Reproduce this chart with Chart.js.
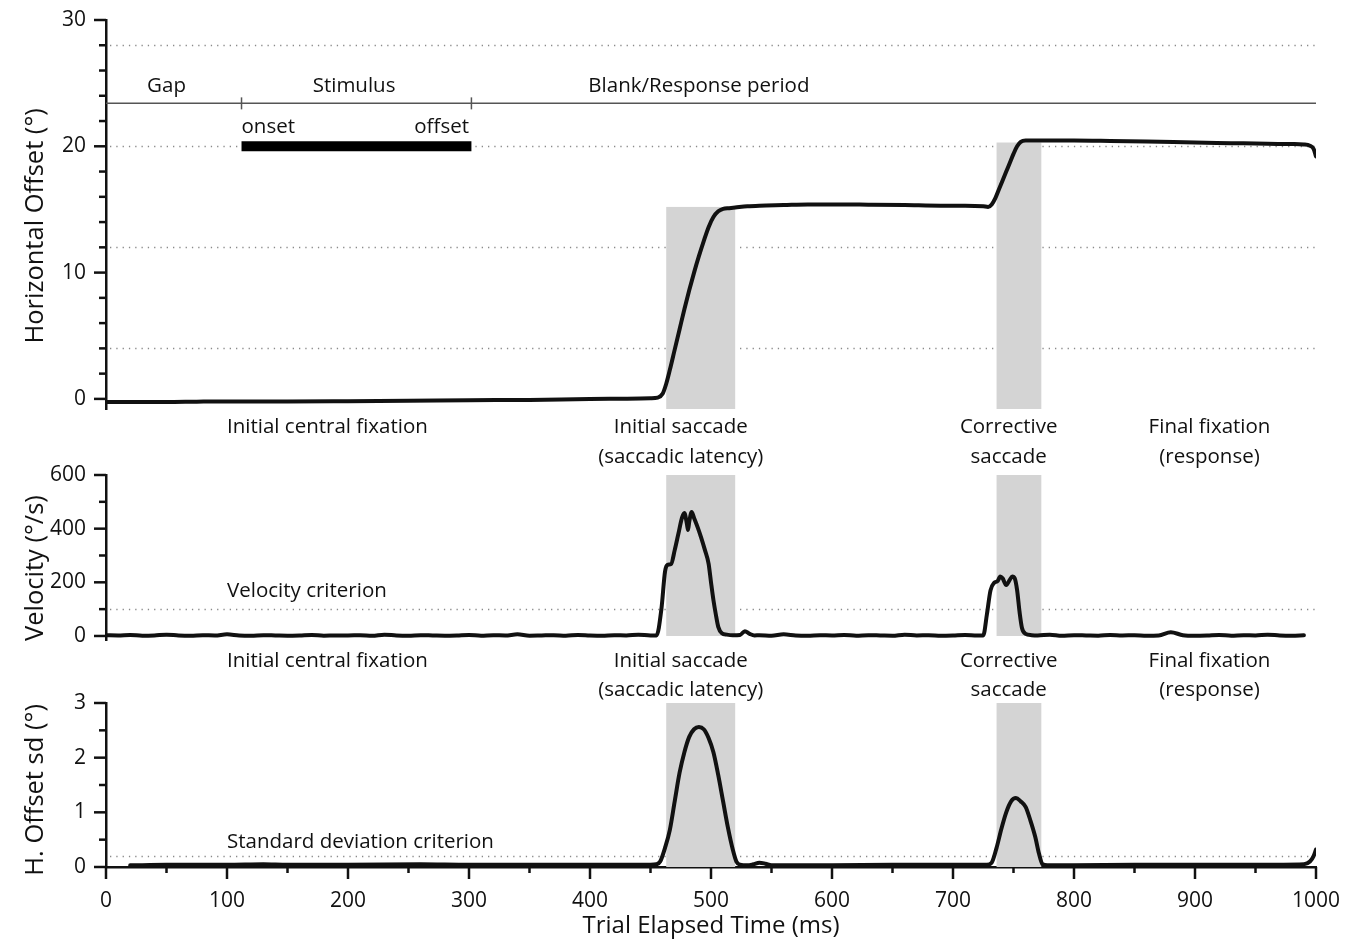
<!DOCTYPE html>
<html>
<head>
<meta charset="utf-8">
<script src="https://cdn.jsdelivr.net/npm/chart.js@4.4.1/dist/chart.umd.min.js"></script>
<style>
  html, body { margin: 0; padding: 0; background: #fff; }
  #wrap { position: relative; width: 1348px; height: 941px; }
  #wrap canvas { position: absolute; left: 0; top: 0; }
</style>
</head>
<body>
<div id="wrap">
  <canvas id="cPos" width="1348" height="941"></canvas>
  <canvas id="cVel" width="1348" height="941"></canvas>
  <canvas id="cSd" width="1348" height="941"></canvas>
</div>
<script>
// horizontal eye position (deg) over the trial
const posTime = [0, 25, 50, 75, 100, 150, 200, 250, 300, 350, 400, 430, 450, 456, 460, 463, 466, 470, 474, 478, 482, 486, 490, 494, 498, 502, 506, 510, 515, 520, 530, 540, 560, 580, 600, 630, 660, 690, 710, 725, 729, 732, 735, 738, 741, 744, 747, 750, 753, 756, 760, 770, 800, 830, 860, 900, 930, 960, 980, 990, 995, 998, 1000];
const posDeg = [-0.25, -0.25, -0.25, -0.22, -0.2, -0.2, -0.18, -0.15, -0.1, -0.08, 0, 0.02, 0.05, 0.1, 0.4, 1.2, 2.3, 3.9, 5.5, 7.1, 8.6, 10.0, 11.3, 12.5, 13.6, 14.4, 14.85, 15.05, 15.1, 15.15, 15.25, 15.3, 15.35, 15.4, 15.4, 15.38, 15.35, 15.3, 15.3, 15.25, 15.2, 15.4, 15.9, 16.6, 17.3, 18.0, 18.7, 19.4, 20.0, 20.35, 20.45, 20.45, 20.45, 20.42, 20.38, 20.3, 20.25, 20.2, 20.18, 20.15, 20.05, 19.8, 19.2];

// eye velocity (deg/s)
const velTime = [0, 10, 20, 30, 40, 50, 60, 70, 80, 90, 100, 110, 120, 130, 140, 150, 160, 170, 180, 190, 200, 210, 220, 230, 240, 250, 260, 270, 280, 290, 300, 310, 320, 330, 340, 350, 360, 370, 380, 390, 400, 410, 420, 430, 440, 450,
  455, 459, 462, 464, 467, 470, 473, 476, 478, 480, 481, 482, 484, 486, 489, 492, 495, 498, 500, 502, 504, 506, 509, 513, 518, 524, 528, 532, 536,
  540, 550, 560, 570, 580, 590, 600, 610, 620, 630, 640, 650, 660, 670, 680, 690, 700, 710, 720,
  725, 728, 731, 734, 737, 739, 741, 744, 747, 749, 751, 753, 755, 757, 760, 765,
  770, 780, 790, 800, 810, 820, 830, 840, 850, 860, 870, 880, 890, 900, 910, 920, 930, 940, 950, 960, 970, 980, 990];
const velDeg = [3, 2, 4, 1, 2, 5, 2, 1, 3, 2, 6, 2, 1, 3, 2, 1, 2, 4, 1, 2, 2, 3, 1, 5, 2, 1, 3, 2, 1, 2, 4, 1, 3, 2, 6, 1, 2, 3, 1, 4, 2, 1, 3, 2, 5, 2,
  2, 100, 240, 265, 268, 320, 380, 440, 458, 420, 395, 425, 462, 440, 405, 365, 320, 270, 200, 134, 80, 34, 10, 5, 3, 4, 18, 8, 2,
  3, 1, 6, 2, 1, 3, 2, 4, 1, 3, 2, 1, 5, 2, 3, 1, 2, 4, 2,
  2, 80, 170, 198, 205, 222, 215, 190, 210, 222, 215, 170, 90, 30, 8, 3,
  2, 5, 1, 3, 2, 1, 4, 2, 3, 1, 2, 14, 3, 1, 2, 4, 1, 3, 2, 5, 2, 1, 3];

// running standard deviation of horizontal offset (deg)
const sdTime = [20, 50, 100, 130, 150, 200, 260, 300, 350, 400, 450, 455, 458, 462, 466, 470, 474, 478, 482, 486, 490, 494, 498, 502, 506, 510, 514, 518, 521, 524, 530, 535, 540, 545, 550, 600, 650, 700, 728, 732, 736, 740, 744, 748, 752, 756, 760, 764, 768, 771, 774, 778, 800, 850, 900, 950, 990, 995, 998, 1000];
const sdDeg = [0.03, 0.04, 0.04, 0.05, 0.04, 0.04, 0.05, 0.04, 0.04, 0.04, 0.04, 0.05, 0.1, 0.35, 0.68, 1.2, 1.72, 2.1, 2.38, 2.52, 2.56, 2.52, 2.36, 2.1, 1.68, 1.2, 0.72, 0.32, 0.1, 0.04, 0.03, 0.05, 0.08, 0.06, 0.03, 0.03, 0.04, 0.04, 0.04, 0.08, 0.35, 0.7, 1.0, 1.2, 1.26, 1.2, 1.1, 0.85, 0.55, 0.25, 0.05, 0.03, 0.03, 0.04, 0.04, 0.04, 0.05, 0.1, 0.2, 0.32];

// trial structure
const periodBounds = [112, 302];
const periodNames = ['Gap', 'Stimulus', 'Blank/Response period'];
const periodLabelMs = [50, 205, 490];
const stimulusBar = [112, 302];
const stimulusLevel = 20;
const saccadeWindows = [[463, 520], [736, 773]];
const saccadeEndPos = [15.2, 20.3];
const phaseNames = ['Initial central fixation', 'Initial saccade', 'Corrective', 'Final fixation'];
const phaseNotes = ['', '(saccadic latency)', 'saccade', '(response)'];
const phaseMs = [183, 475, 746, 912];
const targetLevels = [4, 12, 20, 28];
const velocityCriterion = 100;
const sdCriterion = 0.2;

// ticks
const timeTicks = [0, 50, 100, 150, 200, 250, 300, 350, 400, 450, 500, 550, 600, 650, 700, 750, 800, 850, 900, 950, 1000];
const timeTickLabels = [0, 100, 200, 300, 400, 500, 600, 700, 800, 900, 1000];
const posTicks = [0, 2, 4, 6, 8, 10, 12, 14, 16, 18, 20, 22, 24, 26, 28, 30];
const posTickLabels = [0, 10, 20, 30];
const velTicks = [0, 100, 200, 300, 400, 500, 600];
const velTickLabels = [0, 200, 400, 600];
const sdTicks = [0, 0.5, 1, 1.5, 2, 2.5, 3];
const sdTickLabels = [0, 1, 2, 3];

const FONT = "'Open Sans', sans-serif";
const INK = '#111';
const CLEAR = 'rgba(0,0,0,0)';

const pts = (xs, ys) => xs.map((x, i) => ({ x, y: ys[i] }));

// draws dotted lines, grey saccade windows, hand-made tick marks, y titles and text labels
const overlay = {
  id: 'overlay',
  beforeDatasetsDraw(chart, args, o) {
    const { ctx, chartArea: a, scales: { x, y } } = chart;
    ctx.save();
    ctx.strokeStyle = '#8a8a8a';
    ctx.lineWidth = 1.3;
    ctx.setLineDash([1.3, 5]);
    (o.dotted || []).forEach(v => {
      const py = Math.round(y.getPixelForValue(v)) + 0.5;
      ctx.beginPath(); ctx.moveTo(a.left + 4, py); ctx.lineTo(a.right, py); ctx.stroke();
    });
    ctx.setLineDash([]);
    ctx.fillStyle = '#d4d4d4';
    (o.shade || []).forEach(s => {
      const x0 = x.getPixelForValue(s[0]), x1 = x.getPixelForValue(s[1]);
      const y0 = y.getPixelForValue(s[2]), y1 = y.getPixelForValue(s[3]);
      ctx.fillRect(x0, y1, x1 - x0, y0 - y1);
    });
    if (o.periods) {
      const py = y.getPixelForValue(o.periods.level);
      ctx.strokeStyle = '#555';
      ctx.lineWidth = 1.5;
      ctx.beginPath(); ctx.moveTo(a.left, py); ctx.lineTo(a.right, py); ctx.stroke();
      o.periods.bounds.forEach(b => {
        const px = x.getPixelForValue(b);
        ctx.beginPath(); ctx.moveTo(px, py - 6); ctx.lineTo(px, py + 6); ctx.stroke();
      });
    }
    ctx.restore();
  },
  afterDraw(chart, args, o) {
    const { ctx, chartArea: a, scales: { x, y } } = chart;
    ctx.save();
    ctx.strokeStyle = INK;
    ctx.lineWidth = 2.5;
    y.ticks.forEach((t, i) => {
      const py = y.getPixelForTick(i);
      const len = o.yMajor.includes(t.value) ? 12 : 7;
      ctx.beginPath(); ctx.moveTo(a.left, py); ctx.lineTo(a.left - len, py); ctx.stroke();
    });
    if (o.xMajor) {
      x.ticks.forEach((t, i) => {
        const px = x.getPixelForTick(i);
        const len = o.xMajor.includes(t.value) ? 12 : 6;
        ctx.beginPath(); ctx.moveTo(px, a.bottom); ctx.lineTo(px, a.bottom + len); ctx.stroke();
      });
    }
    ctx.fillStyle = INK;
    ctx.textBaseline = 'middle';
    if (o.yTitle) {
      ctx.save();
      ctx.translate(36, y.getPixelForValue(o.yTitle.at));
      ctx.rotate(-Math.PI / 2);
      ctx.textAlign = 'center';
      ctx.font = '25.5px ' + FONT;
      ctx.fillText(o.yTitle.text, 0, 0);
      ctx.restore();
    }
    ctx.font = '20.5px ' + FONT;
    (o.texts || []).forEach(t => {
      const px = x.getPixelForValue(t.ms);
      const py = t.below !== undefined ? a.bottom + t.below : y.getPixelForValue(t.val);
      ctx.textAlign = t.align || 'center';
      ctx.fillText(t.text, px, py);
    });
    ctx.restore();
  }
};

function timeAxis(show) {
  const axis = {
    type: 'linear', min: 0, max: 1000, display: show,
    afterBuildTicks: s => { s.ticks = timeTicks.map(v => ({ value: v })); },
    ticks: {
      autoSkip: false, maxRotation: 0, minRotation: 0, padding: 0, color: INK,
      font: { size: 21, family: FONT },
      callback: v => timeTickLabels.includes(v) ? String(v) : ''
    },
    grid: { display: true, drawOnChartArea: false, drawTicks: true, tickLength: 21, tickColor: CLEAR },
    border: { display: true, color: INK, width: 2.5 },
    title: { display: true, text: 'Trial Elapsed Time (ms)', color: INK, font: { size: 24, family: FONT }, padding: { top: 0, bottom: 0 } }
  };
  if (show) axis.afterFit = s => { s.height = 74; };
  return axis;
}

function valueAxis(min, max, ticks, labels) {
  return {
    min, max,
    afterBuildTicks: s => { s.ticks = ticks.map(v => ({ value: v })); },
    afterFit: s => { s.width = 106; },
    ticks: {
      autoSkip: false, padding: 0, color: INK, font: { size: 21, family: FONT },
      callback: v => labels.includes(v) ? String(v) : ''
    },
    grid: { display: true, drawOnChartArea: false, drawTicks: true, tickLength: 20, tickColor: CLEAR },
    border: { display: true, color: INK, width: 2.5 },
    title: { display: false }
  };
}

function trace(data) {
  return {
    data, borderColor: INK, borderWidth: 4, pointRadius: 0,
    cubicInterpolationMode: 'monotone', borderJoinStyle: 'round', borderCapStyle: 'round'
  };
}

function phaseTexts(firstRow, secondRow) {
  const out = [];
  phaseMs.forEach((ms, i) => {
    out.push({ text: phaseNames[i], ms, below: firstRow });
    if (phaseNotes[i]) out.push({ text: phaseNotes[i], ms, below: secondRow });
  });
  return out;
}

Chart.defaults.font.family = FONT;
Chart.defaults.animation = false;

const common = (padding) => ({
  responsive: false,
  animation: false,
  layout: { padding, autoPadding: false },
  plugins: { legend: { display: false }, tooltip: { enabled: false } }
});

// panel 1: horizontal offset
const posOpts = common({ left: 0, right: 32, top: 20, bottom: 532 });
posOpts.scales = { x: timeAxis(false), y: valueAxis(-0.8, 30, posTicks, posTickLabels) };
posOpts.plugins.overlay = {
  dotted: targetLevels,
  shade: saccadeWindows.map((w, i) => [w[0], w[1], -0.8, saccadeEndPos[i]]),
  periods: { level: 23.4, bounds: periodBounds },
  yMajor: posTickLabels,
  yTitle: { text: 'Horizontal Offset (°)', at: 13.7 },
  texts: periodNames.map((n, i) => ({ text: n, ms: periodLabelMs[i], val: 24.8 }))
    .concat([
      { text: 'onset', ms: stimulusBar[0], val: 21.5, align: 'left' },
      { text: 'offset', ms: stimulusBar[1] - 2, val: 21.5, align: 'right' }
    ])
    .concat(phaseTexts(18, 48))
};
new Chart(document.getElementById('cPos'), {
  type: 'line',
  data: {
    datasets: [
      trace(pts(posTime, posDeg)),
      { data: pts(stimulusBar, [stimulusLevel, stimulusLevel]), borderColor: '#000', borderWidth: 10, borderCapStyle: 'butt', pointRadius: 0 }
    ]
  },
  options: posOpts,
  plugins: [overlay]
});

// panel 2: velocity
const velOpts = common({ left: 0, right: 32, top: 475, bottom: 301 });
velOpts.scales = { x: timeAxis(false), y: valueAxis(-15, 600, velTicks, velTickLabels) };
velOpts.plugins.overlay = {
  dotted: [velocityCriterion],
  shade: saccadeWindows.map(w => [w[0], w[1], 0, 600]),
  yMajor: velTickLabels,
  yTitle: { text: 'Velocity (°/s)', at: 253 },
  texts: [{ text: 'Velocity criterion', ms: 100, val: 168, align: 'left' }].concat(phaseTexts(21, 50))
};
new Chart(document.getElementById('cVel'), {
  type: 'line',
  data: { datasets: [trace(pts(velTime, velDeg))] },
  options: velOpts,
  plugins: [overlay]
});

// panel 3: standard deviation
const sdOpts = common({ left: 0, right: 32, top: 703, bottom: 0 });
sdOpts.scales = { x: timeAxis(true), y: valueAxis(0, 3, sdTicks, sdTickLabels) };
sdOpts.plugins.overlay = {
  dotted: [sdCriterion],
  shade: saccadeWindows.map(w => [w[0], w[1], 0, 3]),
  yMajor: sdTickLabels,
  xMajor: timeTickLabels,
  yTitle: { text: 'H. Offset sd (°)', at: 1.41 },
  texts: [{ text: 'Standard deviation criterion', ms: 100, val: 0.46, align: 'left' }]
};
new Chart(document.getElementById('cSd'), {
  type: 'line',
  data: { datasets: [trace(pts(sdTime, sdDeg))] },
  options: sdOpts,
  plugins: [overlay]
});
</script>
</body>
</html>
